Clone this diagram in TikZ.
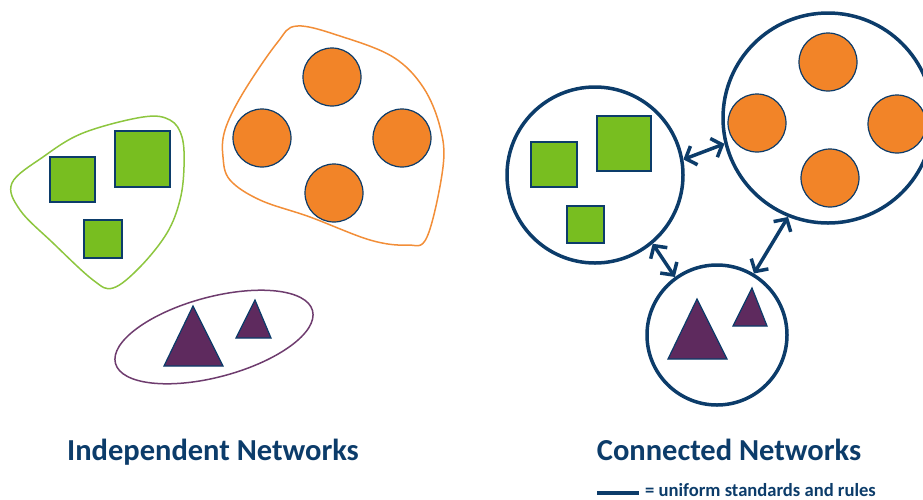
\documentclass[tikz,border=0pt]{standalone}
\usepackage{fontspec}
\setmainfont{Carlito}
\usepackage{tikz}
\usetikzlibrary{arrows.meta, positioning, calc}
\definecolor{colNavy}{RGB}{12, 60, 106}
\definecolor{colGreen}{RGB}{120, 190, 32}
\definecolor{colGreenLine}{RGB}{141, 198, 63}
\definecolor{colOrange}{RGB}{242, 132, 40}
\definecolor{colOrangeLine}{RGB}{242, 142, 56}
\definecolor{colPurple}{RGB}{94, 42, 94}
\definecolor{colPurpleLine}{RGB}{110, 60, 110}

\tikzset{
    sq/.style={fill=colGreen, draw=colNavy, line width=1.2pt},
    dot/.style={fill=colOrange, draw=colNavy, line width=1.2pt},
    tri/.style={fill=colPurple, draw=colNavy, line width=1.2pt, line join=miter},
    net/.style={circle, draw=colNavy, line width=3.5pt, inner sep=0pt},
    link/.style={colNavy, line width=3.5pt, {Straight Barb[length=9pt, width=20pt]}-{Straight Barb[length=9pt, width=20pt]}},
    title/.style={font=\bfseries\fontsize{30.5}{32}\selectfont, text=colNavy, anchor=base}
}

\begin{document}
\begin{tikzpicture}[x=1pt, y=-1pt]
    \clip (0, 0) rectangle (923, 499);
    \useasboundingbox (0, 0) rectangle (923, 499);

    % --- Independent: green group ---
    \draw[colGreenLine, line width=1.5pt] plot[smooth cycle, tension=0.6] coordinates {
        (12,183) (43,157) (83,133) (143,117) (170,120) (182,137) (184,167)
        (180,200) (167,233) (140,267) (113,288) (93,280) (53,243) (20,210)};
    \draw[sq] (50, 157) rectangle (95, 202);
    \draw[sq] (115, 131) rectangle (170, 187);
    \draw[sq] (84, 220) rectangle (122, 258);

    % --- Independent: orange group ---
    \draw[colOrangeLine, line width=1.5pt] plot[smooth cycle, tension=0.6] coordinates {
        (297,26) (343,37) (393,57) (423,87) (440,127) (443,167) (427,237)
        (407,245) (370,240) (310,217) (260,200) (230,180) (223,157) (225,130)
        (243,93) (277,43)};
    \foreach \x/\y in {332/77, 262/138, 402/138, 334/193} {
        \draw[dot] (\x, \y) circle (29);
    }

    % --- Independent: purple group ---
    \draw[colPurpleLine, line width=1.5pt, rotate around={15:(214,337)}] (214, 337) ellipse (102 and 40);
    \draw[tri] (193, 306) -- (223, 366) -- (164, 366) -- cycle;
    \draw[tri] (255, 300) -- (271, 338) -- (236, 338) -- cycle;

    % --- Connected networks ---
    \node[net, minimum size=176pt] (gnet) at (595, 175) {};
    \node[net, minimum size=210pt] (onet) at (828, 118) {};
    \node[net, minimum size=140pt] (pnet) at (717, 335) {};

    \draw[sq] (531, 142) rectangle (577, 187);
    \draw[sq] (597, 116) rectangle (651, 171);
    \draw[sq] (567, 206) rectangle (604, 243);

    \foreach \x/\y in {828/62, 757/123, 897/124, 830/178} {
        \draw[dot] (\x, \y) circle (29);
    }

    \draw[tri] (697, 299) -- (727, 359) -- (668, 359) -- cycle;
    \draw[tri] (752, 288) -- (767, 326) -- (733, 326) -- cycle;

    % links
    \draw[link] (gnet.10) -- (onet.194);
    \draw[link] (gnet.-50) -- (pnet.126);
    \draw[link] (onet.-112) -- (pnet.59);

    % --- Titles ---
    \node[title] (indep) at (213, 460) {Independent Networks};
    \node[title] (conn) at (729, 460) {Connected Networks};

    % --- Legend ---
    \node[anchor=base west, font=\bfseries\fontsize{18.6}{19}\selectfont, text=colNavy, inner sep=0pt] (rules) at (645, 496) {= uniform standards and rules};
    \coordinate (keyA) at (597, 493);
    \draw[colNavy, line width=4pt] (keyA) -- ++(42, 0);
\end{tikzpicture}
\end{document}
